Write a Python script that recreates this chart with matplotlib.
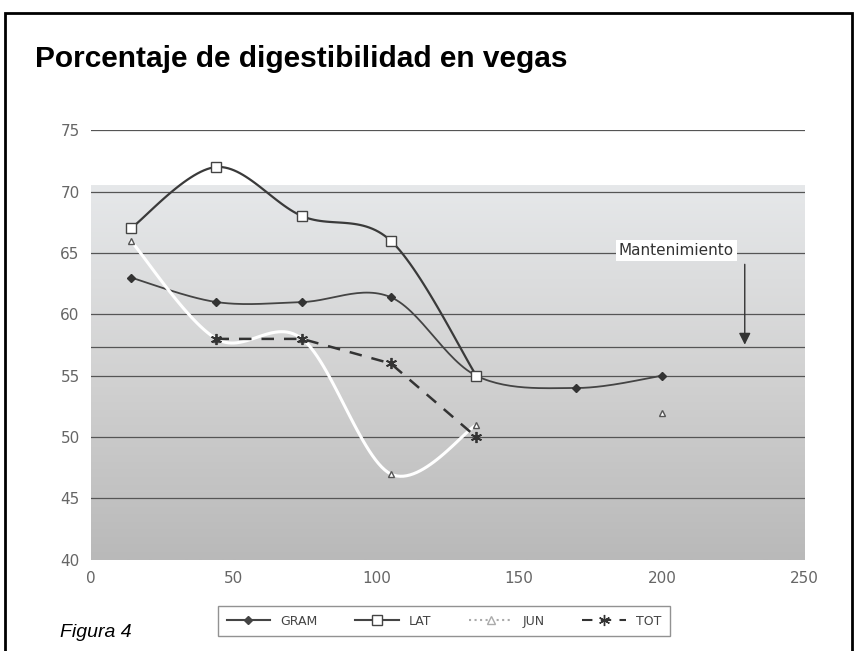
import numpy as np
import matplotlib
matplotlib.use("Agg")
from matplotlib import pyplot as plt
from matplotlib.patches import Rectangle
from matplotlib.colors import LinearSegmentedColormap
from matplotlib.lines import Line2D

# datos
dias = [14, 44, 74, 105, 135, 170, 200]
gram = [63, 61, 61, 61.4, 55, 54, 55]
lat = [67, 72, 68, 66, 55, np.nan, np.nan]
jun = [66, 58, 58, 47, 51, np.nan, 52]
tot = [np.nan, 58, 58, 56, 50, np.nan, np.nan]
mant_x, mant_y = 229, 57.3


def suave(x, y, n=30):
    # curva suavizada tipo Excel (Catmull-Rom) sobre los tramos sin huecos
    x = np.asarray(x, float)
    y = np.asarray(y, float)
    ok = ~np.isnan(y)
    tramos, actual = [], []
    for xi, yi, k in zip(x, y, ok):
        if k:
            actual.append((xi, yi))
        else:
            if actual:
                tramos.append(actual)
            actual = []
    if actual:
        tramos.append(actual)
    res = []
    for t in tramos:
        p = np.array(t)
        if len(p) < 2:
            continue
        pp = np.vstack([p[0], p, p[-1]])
        xs, ys = [], []
        for i in range(1, len(pp) - 2):
            p0, p1, p2, p3 = pp[i - 1], pp[i], pp[i + 1], pp[i + 2]
            for s in np.linspace(0, 1, n):
                c = 0.5 * ((2 * p1) + (-p0 + p2) * s + (2 * p0 - 5 * p1 + 4 * p2 - p3) * s ** 2
                           + (-p0 + 3 * p1 - 3 * p2 + p3) * s ** 3)
                xs.append(c[0])
                ys.append(c[1])
        res.append((xs, ys))
    return res


plt.rcParams['font.family'] = ['DejaVu Sans']
fig = plt.figure(figsize=(8.57, 6.51), dpi=100)
fig.patch.set_facecolor('white')

# marco de la figura
fig.add_artist(Rectangle((0.006, -0.01), 0.988, 0.99, transform=fig.transFigure,
                         fill=False, edgecolor='black', linewidth=2))
fig.text(0.041, 0.91, 'Porcentaje de digestibilidad en vegas', fontsize=21.5,
         fontweight='bold', family='Liberation Sans', ha='left', va='center')
fig.text(0.07, 0.029, 'Figura 4', fontsize=14, style='italic', family='Liberation Sans',
         ha='left', va='center')

ax = fig.add_axes([0.106, 0.14, 0.833, 0.66])
ax.set_xlim(0, 250)
ax.set_ylim(40, 75)

# fondo degradado
grises = LinearSegmentedColormap.from_list('g', ['#e6e8ea', '#d2d2d2', '#b9b9b9'])
grad = np.linspace(0, 1, 256).reshape(-1, 1)
ax.imshow(grad, extent=[0, 250, 40, 70.5], aspect='auto', cmap=grises,
          origin='upper', zorder=0)

for yv in [45, 50, 55, 60, 65, 70, 75]:
    ax.axhline(yv, color='#555555', linewidth=0.9, zorder=1)
ax.axhline(mant_y, color='#555555', linewidth=0.9, zorder=1)

for xs, ys in suave(dias, gram):
    ax.plot(xs, ys, color='#444444', linewidth=1.3, zorder=3)
ax.plot(dias, gram, linestyle='none', marker='D', markersize=4,
        color='#333333', zorder=4)

for xs, ys in suave(dias, lat):
    ax.plot(xs, ys, color='#3a3a3a', linewidth=1.6, zorder=3)
ax.plot(dias, lat, linestyle='none', marker='s', markersize=7,
        markerfacecolor='white', markeredgecolor='#444444', zorder=5)

for xs, ys in suave(dias, jun):
    ax.plot(xs, ys, color='white', linewidth=2.2, zorder=3)
ax.plot(dias, jun, linestyle='none', marker='^', markersize=5,
        markerfacecolor='white', markeredgecolor='#555555', zorder=5)

ax.plot(dias, tot, color='#333333', linewidth=1.8, linestyle=(0, (5, 4)), zorder=4)
ax.plot(dias, tot, linestyle='none', marker=(6, 2, 0), markersize=8,
        color='#333333', markeredgewidth=1.3, zorder=5)

ax.annotate('', xy=(mant_x, mant_y), xytext=(mant_x, 64.3),
            arrowprops=dict(arrowstyle='-|>,head_width=0.35,head_length=0.7',
                            color='#333333', lw=1.0), zorder=6)
ax.text(205, 65.2, 'Mantenimiento', fontsize=11, color='#333333', ha='center',
        va='center', bbox=dict(facecolor='white', edgecolor='none', pad=2), zorder=6)

ax.set_xticks([0, 50, 100, 150, 200, 250])
ax.set_yticks([40, 45, 50, 55, 60, 65, 70, 75])
ax.tick_params(length=0, labelsize=11, labelcolor='#666666', pad=8)
for s in ['top', 'right', 'left', 'bottom']:
    ax.spines[s].set_visible(False)

# leyenda
h = [Line2D([], [], color='#444444', marker='D', markersize=4),
     Line2D([], [], color='#444444', marker='s', markersize=7, markerfacecolor='white'),
     Line2D([], [], color='#aaaaaa', linestyle=':', marker='^', markersize=6, markerfacecolor='white'),
     Line2D([], [], color='#333333', linestyle=(0, (5, 4)), marker=(6, 2, 0), markersize=8)]
leg = fig.legend(h, ['GRAM', 'LAT', 'JUN', 'TOT'], ncol=4, loc='center',
                 bbox_to_anchor=(0.518, 0.046), fontsize=9, frameon=True,
                 fancybox=False, edgecolor='#777777', columnspacing=3.0, handlelength=3.5,
                 borderpad=0.7)
for t in leg.get_texts():
    t.set_color('#444444')

fig.savefig('out.png', dpi=100)
